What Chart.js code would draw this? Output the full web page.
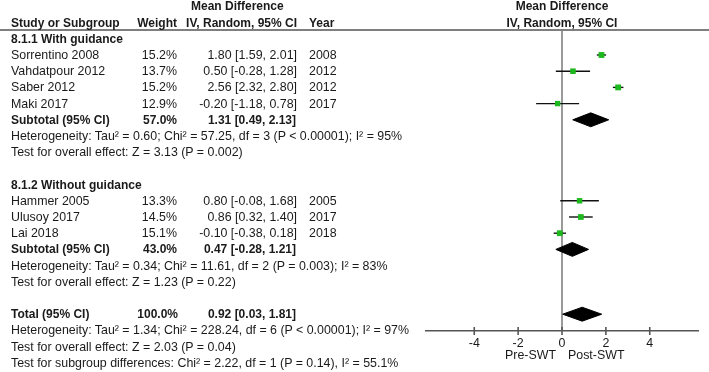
<!DOCTYPE html>
<html>
<head>
<meta charset="utf-8">
<script src="https://cdn.jsdelivr.net/npm/chart.js@4.4.1/dist/chart.umd.min.js"></script>
<style>
  body { margin: 0; background: #fff; }
  #wrap { position: relative; width: 709px; height: 372px; overflow: hidden; }
  #wrap canvas { position: absolute; left: 0; top: 0; }
  .txt { position: absolute; font: 12.4px "Liberation Sans", Arial, sans-serif; line-height: 14px; color: #1a1a1a; white-space: nowrap; }
  .b { font-weight: bold; font-size: 12px; }
</style>
</head>
<body>
<div id="wrap"><canvas id="forest"></canvas></div>
<script>
// dados dos estudos (linha = posição na tabela)
const studyNames = ['Sorrentino 2008', 'Vahdatpour 2012', 'Saber 2012', 'Maki 2017', 'Hammer 2005', 'Ulusoy 2017', 'Lai 2018'];
const studyWeights = [15.2, 13.7, 15.2, 12.9, 13.3, 14.5, 15.1];
const studyMean = [1.80, 0.50, 2.56, -0.20, 0.80, 0.86, -0.10];
const studyLow = [1.59, -0.28, 2.32, -1.18, -0.08, 0.32, -0.38];
const studyHigh = [2.01, 1.28, 2.80, 0.78, 1.68, 1.40, 0.18];
const studyYears = [2008, 2012, 2012, 2017, 2005, 2017, 2018];
const studyRows = [3, 4, 5, 6, 12, 13, 14];

// subtotais e total
const poolNames = ['Subtotal (95% CI)', 'Subtotal (95% CI)', 'Total (95% CI)'];
const poolWeights = [57.0, 43.0, 100.0];
const poolMean = [1.31, 0.47, 0.92];
const poolLow = [0.49, -0.28, 0.03];
const poolHigh = [2.13, 1.21, 1.81];
const poolRows = [7, 15, 19];

// linhas de texto extra
const groupTitles = ['8.1.1 With guidance', '8.1.2 Without guidance'];
const groupRows = [2, 11];
const noteTexts = [
    'Heterogeneity: Tau\u00b2 = 0.60; Chi\u00b2 = 57.25, df = 3 (P < 0.00001); I\u00b2 = 95%',
    'Test for overall effect: Z = 3.13 (P = 0.002)',
    'Heterogeneity: Tau\u00b2 = 0.34; Chi\u00b2 = 11.61, df = 2 (P = 0.003); I\u00b2 = 83%',
    'Test for overall effect: Z = 1.23 (P = 0.22)',
    'Heterogeneity: Tau\u00b2 = 1.34; Chi\u00b2 = 228.24, df = 6 (P < 0.00001); I\u00b2 = 97%',
    'Test for overall effect: Z = 2.03 (P = 0.04)',
    'Test for subgroup differences: Chi\u00b2 = 2.22, df = 1 (P = 0.14), I\u00b2 = 55.1%'
];
const noteRows = [8, 9, 16, 17, 20, 21, 22];

// eixo
const xTicks = [-4, -2, 0, 2, 4];
const favourLabels = ['Pre-SWT', 'Post-SWT'];
const plotTitle = ['Mean Difference', 'IV, Random, 95% CI'];

const green = '#1db81d';
const diamondHalf = 0.43;

// monta datasets
const datasets = [];
datasets.push({
    type: 'scatter',
    order: 0,
    data: studyMean.map((m, i) => ({ x: m, y: studyRows[i] })),
    pointStyle: 'rect',
    pointRadius: studyWeights.map(w => 4.1 * Math.sqrt(w / 15)),
    backgroundColor: green,
    borderColor: green,
    borderWidth: 0
});
studyMean.forEach((m, i) => {
    datasets.push({
        type: 'line',
        order: 1,
        data: [{ x: studyLow[i], y: studyRows[i] }, { x: studyHigh[i], y: studyRows[i] }],
        borderColor: '#111',
        borderWidth: 1.4,
        pointRadius: 0,
        fill: false
    });
});
poolMean.forEach((m, i) => {
    const r = poolRows[i];
    datasets.push({
        type: 'line',
        order: 1,
        data: [
            { x: poolLow[i], y: r },
            { x: m, y: r - diamondHalf },
            { x: poolHigh[i], y: r },
            { x: m, y: r + diamondHalf },
            { x: poolLow[i], y: r }
        ],
        borderColor: '#000',
        backgroundColor: '#000',
        borderWidth: 1,
        pointRadius: 0,
        tension: 0,
        fill: 'shape'
    });
});

// linhas de referência (cabeçalho, zero e marcas do eixo)
const forestLines = {
    id: 'forestLines',
    beforeDatasetsDraw(chart) {
        const { ctx, chartArea, scales } = chart;
        const x0 = scales.x.getPixelForValue(0);
        ctx.save();
        ctx.strokeStyle = '#555';
        ctx.lineWidth = 1.6;
        ctx.beginPath();
        ctx.moveTo(0, chartArea.top);
        ctx.lineTo(chart.width, chartArea.top);
        ctx.stroke();
        ctx.strokeStyle = '#808080';
        ctx.lineWidth = 1.6;
        ctx.beginPath();
        ctx.moveTo(x0, chartArea.top);
        ctx.lineTo(x0, chartArea.bottom);
        ctx.stroke();
        ctx.restore();
    },
    afterDraw(chart) {
        const { ctx, chartArea, scales } = chart;
        ctx.save();
        ctx.strokeStyle = '#555';
        ctx.lineWidth = 1.6;
        xTicks.forEach(v => {
            const px = scales.x.getPixelForValue(v);
            ctx.beginPath();
            ctx.moveTo(px, chartArea.bottom - 4);
            ctx.lineTo(px, chartArea.bottom + 4);
            ctx.stroke();
        });
        ctx.restore();
    }
};

Chart.defaults.font.family = '"Liberation Sans", Arial, sans-serif';

const chart = new Chart(document.getElementById('forest'), {
    type: 'scatter',
    data: { datasets: datasets },
    options: {
        responsive: true,
        maintainAspectRatio: false,
        animation: false,
        layout: { padding: { left: 426, right: 11, top: 30, bottom: 0 } },
        plugins: { legend: { display: false }, tooltip: { enabled: false } },
        scales: {
            x: {
                type: 'linear',
                min: -6.2,
                max: 6.2,
                afterBuildTicks: s => { s.ticks = xTicks.map(v => ({ value: v })); },
                afterFit: s => { s.height = 41; },
                grid: { display: false, drawTicks: false },
                border: { display: true, color: '#555', width: 1.6 },
                ticks: { autoSkip: false, maxRotation: 0, padding: 5, color: '#1a1a1a', font: { size: 12.4 } }
            },
            y: {
                type: 'linear',
                min: 1.457,
                max: 20.037,
                reverse: true,
                display: false
            }
        }
    },
    plugins: [forestLines]
});

// texto da tabela (posições das linhas vindas da escala y)
const wrap = document.getElementById('wrap');
function addText(str, x, row, align, bold) {
    const el = document.createElement('div');
    el.className = 'txt' + (bold ? ' b' : '');
    el.textContent = str;
    el.style.left = x + 'px';
    el.style.top = (chart.scales.y.getPixelForValue(row) - 7) + 'px';
    if (align === 'right') el.style.transform = 'translateX(-100%)';
    if (align === 'center') el.style.transform = 'translateX(-50%)';
    wrap.appendChild(el);
}

const colStudy = 11, colWeight = 177, colMd = 297, colYear = 309;
const x0 = chart.scales.x.getPixelForValue(0);

addText('Mean Difference', 191, 0, 'left', true);
addText('Study or Subgroup', colStudy, 1, 'left', true);
addText('Weight', colWeight, 1, 'right', true);
addText('IV, Random, 95% CI', colMd, 1, 'right', true);
addText('Year', colYear, 1, 'left', true);
addText(plotTitle[0], x0, 0, 'center', true);
addText(plotTitle[1], x0, 1, 'center', true);

const fmtCi = (m, lo, hi) => m.toFixed(2) + ' [' + lo.toFixed(2) + ', ' + hi.toFixed(2) + ']';

groupTitles.forEach((t, i) => addText(t, colStudy, groupRows[i], 'left', true));
studyNames.forEach((n, i) => {
    const r = studyRows[i];
    addText(n, colStudy, r, 'left', false);
    addText(studyWeights[i].toFixed(1) + '%', colWeight, r, 'right', false);
    addText(fmtCi(studyMean[i], studyLow[i], studyHigh[i]), colMd, r, 'right', false);
    addText(String(studyYears[i]), colYear, r, 'left', false);
});
poolNames.forEach((n, i) => {
    const r = poolRows[i];
    addText(n, colStudy, r, 'left', true);
    addText(poolWeights[i].toFixed(1) + '%', colWeight + (i === 2 ? 1 : 0), r, 'right', true);
    addText(fmtCi(poolMean[i], poolLow[i], poolHigh[i]), colMd - 1, r, 'right', true);
});
noteTexts.forEach((t, i) => addText(t, colStudy, noteRows[i], 'left', false));

// rótulos de direção do efeito
const favRow = chart.scales.y.getValueForPixel(355);
addText(favourLabels[0], x0 - 6, favRow, 'right', false);
addText(favourLabels[1], x0 + 6, favRow, 'left', false);
</script>
</body>
</html>
